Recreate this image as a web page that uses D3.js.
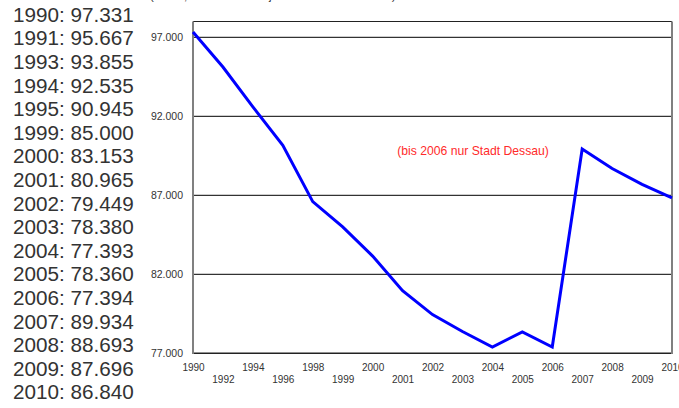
<!DOCTYPE html>
<html>
<head>
<meta charset="utf-8">
<script src="https://cdn.jsdelivr.net/npm/d3@7"></script>
<style>
  html, body { margin: 0; padding: 0; background: #fff; overflow: hidden; }
  svg { display: block; font-family: "Liberation Sans", Arial, sans-serif; }
</style>
</head>
<body>
<svg id="chart" width="679" height="408"></svg>
<script>
// ---- data ----
const listYears  = ["1990","1991","1993","1994","1995","1999","2000","2001","2002","2003","2004","2005","2006","2007","2008","2009","2010"];
const listValues = [97331, 95667, 93855, 92535, 90945, 85000, 83153, 80965, 79449, 78380, 77393, 78360, 77394, 89934, 88693, 87696, 86840];

const categories  = ["1990","1992","1994","1996","1998","1999","2000","2001","2002","2003","2004","2005","2006","2007","2008","2009","2010"];
const chartValues = [97331, 95120, 92600, 90160, 86600, 85000, 83153, 80965, 79449, 78380, 77393, 78360, 77394, 89934, 88693, 87696, 86840];

const yTicks = [77000, 82000, 87000, 92000, 97000];
const yDomain = [77000, 98000];
const noteText = "(bis 2006 nur Stadt Dessau)";
const topText = "(Stand, Einwohnerzahl jeweils zum Jahresende)";

// ---- setup ----
const de = d3.formatLocale({decimal: ",", thousands: ".", grouping: [3], currency: ["", " €"]});
const fmt = de.format(",.0f");

const svg = d3.select("#chart");
const plotL = 193, plotR = 672, plotT = 21.5, plotB = 353.3;

const x = d3.scalePoint().domain(categories).range([plotL, plotR]);
const y = d3.scaleLinear().domain(yDomain).range([plotB, plotT]);

// cut-off top text (only descenders visible)
svg.append("text")
  .attr("x", 150).attr("y", 0)
  .attr("font-size", 11.5).attr("fill", "#333")
  .text(topText);

// left list
svg.append("g").selectAll("text")
  .data(listYears)
  .join("text")
  .attr("x", 13)
  .attr("y", (d, i) => 21.8 + i * 23.6)
  .attr("font-size", 20.7)
  .attr("fill", "#333")
  .text((d, i) => d + ": " + fmt(listValues[i]));

// gridlines
svg.append("g").selectAll("line")
  .data(yTicks.filter(t => t > yDomain[0]))
  .join("line")
  .attr("x1", plotL).attr("x2", plotR)
  .attr("y1", d => y(d)).attr("y2", d => y(d))
  .attr("stroke", "#000").attr("stroke-width", 1);

// frame: top & bottom black, left & right grey
svg.append("line").attr("x1", plotL).attr("x2", plotR).attr("y1", y(yDomain[1])).attr("y2", y(yDomain[1]))
  .attr("stroke", "#222").attr("stroke-width", 1.2);
svg.append("line").attr("x1", plotL).attr("x2", plotR).attr("y1", y(yDomain[0])).attr("y2", y(yDomain[0]))
  .attr("stroke", "#222").attr("stroke-width", 1.5);
svg.append("line").attr("x1", plotL).attr("x2", plotL).attr("y1", y(yDomain[1])).attr("y2", y(yDomain[0]) + 0.7)
  .attr("stroke", "#808080").attr("stroke-width", 2);
svg.append("line").attr("x1", plotR).attr("x2", plotR).attr("y1", y(yDomain[1])).attr("y2", y(yDomain[0]) + 0.7)
  .attr("stroke", "#808080").attr("stroke-width", 2);

// y axis labels
const yAxis = d3.axisLeft(y).tickValues(yTicks).tickSize(0).tickPadding(10).tickFormat(fmt);
const gy = svg.append("g").attr("transform", `translate(${plotL},0)`).call(yAxis);
gy.select(".domain").remove();
gy.selectAll("text").attr("font-size", 10.5).attr("fill", "#333").attr("font-family", "Liberation Sans, Arial, sans-serif");

// x axis labels (staggered)
const xAxis = d3.axisBottom(x).tickSize(0).tickPadding(0);
const gx = svg.append("g").attr("transform", `translate(0,${plotB})`).call(xAxis);
gx.select(".domain").remove();
gx.selectAll("text")
  .attr("font-size", 10).attr("fill", "#333").attr("font-family", "Liberation Sans, Arial, sans-serif")
  .attr("dy", null)
  .attr("y", (d, i) => i % 2 === 0 ? 17.4 : 30.2);

// line
const line = d3.line().x((d, i) => x(categories[i])).y(d => y(d));
svg.append("path")
  .datum(chartValues)
  .attr("d", line)
  .attr("fill", "none")
  .attr("stroke", "#0000ff")
  .attr("stroke-width", 3)
  .attr("stroke-linejoin", "miter");

// note
svg.append("text")
  .attr("x", 473).attr("y", 154.5)
  .attr("text-anchor", "middle")
  .attr("font-size", 12.2)
  .attr("fill", "#ff2b2b")
  .text(noteText);
</script>
</body>
</html>
